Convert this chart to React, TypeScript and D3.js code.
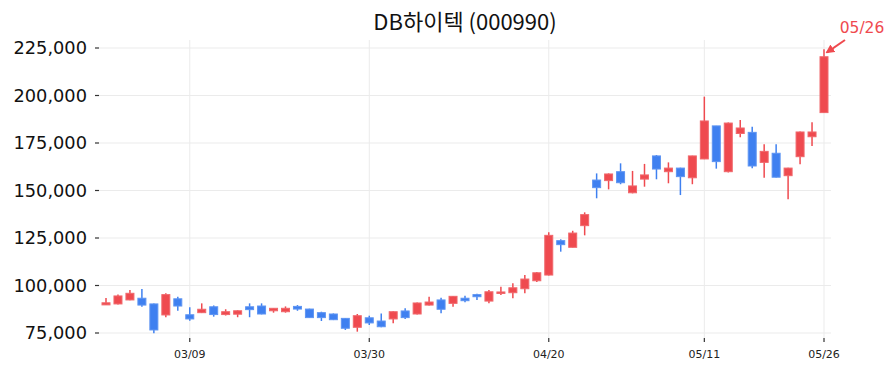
import React from "react";
import * as d3 from "d3";

const dates = [
  "02/25","02/26","02/27","03/03","03/04","03/05","03/06","03/09","03/10","03/11",
  "03/12","03/13","03/16","03/17","03/18","03/19","03/20","03/23","03/24","03/25",
  "03/26","03/27","03/30","03/31","04/01","04/02","04/03","04/06","04/07","04/08",
  "04/09","04/10","04/13","04/14","04/15","04/16","04/17","04/20","04/21","04/22",
  "04/23","04/24","04/27","04/28","04/29","04/30","05/04","05/06","05/07","05/08",
  "05/11","05/12","05/13","05/14","05/15","05/18","05/19","05/20","05/21","05/22",
  "05/26",
];

const opens = [
  89800,90300,92400,93300,90300,84500,93000,84600,85700,88800,
  84700,84900,88800,89200,86700,86200,89000,87600,85700,85000,
  82700,78000,83000,81300,82400,86600,85000,89700,92400,90600,
  93300,95200,91800,95900,96200,98300,102500,105500,123600,120100,
  131500,155500,155200,159900,148800,156000,168200,159900,161800,156700,
  166600,184000,159900,180000,180600,164800,169600,157800,167800,178300,
  191000,
];
const highs = [
  93400,95200,97600,98200,90500,95900,94100,88500,90600,89500,
  87500,87000,90600,90600,88000,89000,89700,87800,86200,85300,
  82900,85000,84100,85200,86500,88000,91100,94100,93600,94500,
  94600,95700,97600,99400,101200,105500,107100,128000,124300,128800,
  138500,159000,159000,164300,160300,164000,168700,164800,162000,168300,
  199400,184000,185800,187100,183600,174300,174300,162000,181000,185900,
  224300,
];
const lows = [
  89700,90000,92200,88800,74900,83300,86700,81500,85500,83600,
  84200,83300,83300,84800,85700,85700,86700,83000,81300,81800,
  76600,75700,79200,78000,80100,82400,84700,89500,85400,88800,
  91200,92400,90600,95000,93300,95900,101800,105300,117800,120000,
  126400,145900,150600,153300,148500,152000,155900,153800,147600,153300,
  166500,161500,159500,178000,161700,156700,156900,145400,163800,173400,
  190900,
];
const closes = [
  90900,94500,95900,89700,76600,95200,89200,82400,87500,84700,
  86200,86700,87300,85000,88000,88000,87600,83100,83100,82000,
  77500,84100,80300,78300,86200,83100,90800,91300,87500,94300,
  92000,94100,96700,96600,98800,103400,106700,126400,121500,127600,
  137300,151500,158700,154100,152400,158200,161300,161800,157300,168200,
  186600,165200,185500,182900,162900,170600,157000,161800,180800,180800,
  220400,
];

const yTicks = [75000, 100000, 125000, 150000, 175000, 200000, 225000];
const xTickLabels = ["03/09", "03/30", "04/20", "05/11", "05/26"];
const titleText = "DB하이텍 (000990)";
const annotationText = "05/26";

const W = 895;
const H = 373;
const plotLeft = 99;
const plotRight = 831;
const plotTop = 40;
const plotBottom = 338;

const UP = "#ef4a4f";
const UP_STROKE = "#f0686c";
const DOWN = "#3f80f0";
const DOWN_STROKE = "#5e94f2";

export default function App() {
  const x = d3.scalePoint<string>().domain(dates).range([106, 824]);
  const y = d3.scaleLinear().domain([75000, 225000]).range([333, 48]);
  const fmt = d3.format(",");
  const bodyW = 8;

  const lastDate = dates[dates.length - 1];
  const lastHigh = highs[highs.length - 1];
  const ax = (x(lastDate) as number) + 3;
  const ay = y(lastHigh) + 3;

  return (
    <svg
      width={W}
      height={H}
      style={{ position: "absolute", left: 0, top: 0, background: "#fff" }}
      fontFamily="'DejaVu Sans', sans-serif"
    >
      <defs>
        <marker id="arrowHead" viewBox="0 0 10 10" refX="8" refY="5" markerWidth="4.5" markerHeight="4.5" orient="auto-start-reverse">
          <path d="M0,0 L10,5 L0,10 z" fill={UP} />
        </marker>
      </defs>
      {yTicks.map((t) => (
        <line key={"hg" + t} x1={plotLeft} x2={plotRight} y1={y(t)} y2={y(t)} stroke="#ebebeb" strokeWidth={1} />
      ))}
      {xTickLabels.map((d) => (
        <line key={"vg" + d} x1={x(d) as number} x2={x(d) as number} y1={plotTop} y2={plotBottom} stroke="#ebebeb" strokeWidth={1} />
      ))}
      {yTicks.map((t) => (
        <g key={"yt" + t}>
          <line x1={95} x2={99} y1={y(t)} y2={y(t)} stroke="#333" strokeWidth={1.2} />
          <text x={87} y={y(t)} dy="0.36em" textAnchor="end" fontSize={17.8} fill="#111">
            {fmt(t)}
          </text>
        </g>
      ))}
      {xTickLabels.map((d) => (
        <g key={"xt" + d}>
          <line x1={x(d) as number} x2={x(d) as number} y1={338} y2={342} stroke="#333" strokeWidth={1.2} />
          <text x={x(d) as number} y={358} textAnchor="middle" fontSize={11} fill="#222">
            {d}
          </text>
        </g>
      ))}
      {dates.map((d, i) => {
        const o = opens[i];
        const c = closes[i];
        const up = c >= o;
        const cx = x(d) as number;
        const top = y(Math.max(o, c));
        const bot = y(Math.min(o, c));
        const h = Math.max(1.5, bot - top);
        return (
          <g key={"c" + d}>
            <line x1={cx} x2={cx} y1={y(highs[i])} y2={y(lows[i])} stroke={up ? UP : DOWN} strokeWidth={1.5} />
            <rect
              x={cx - bodyW / 2}
              y={top}
              width={bodyW}
              height={h}
              fill={up ? UP : DOWN}
              stroke={up ? UP_STROKE : DOWN_STROKE}
              strokeWidth={1}
            />
          </g>
        );
      })}
      <text x={465} y={30} textAnchor="middle" fontSize={22} fill="#111" fontFamily="'Noto Sans CJK KR', 'Noto Sans', sans-serif">
        {titleText}
      </text>
      <line x1={845} y1={40} x2={ax} y2={ay} stroke={UP} strokeWidth={2} markerEnd="url(#arrowHead)" />
      <text x={862} y={33} textAnchor="middle" fontSize={15.5} fill={UP}>
        {annotationText}
      </text>
    </svg>
  );
}
